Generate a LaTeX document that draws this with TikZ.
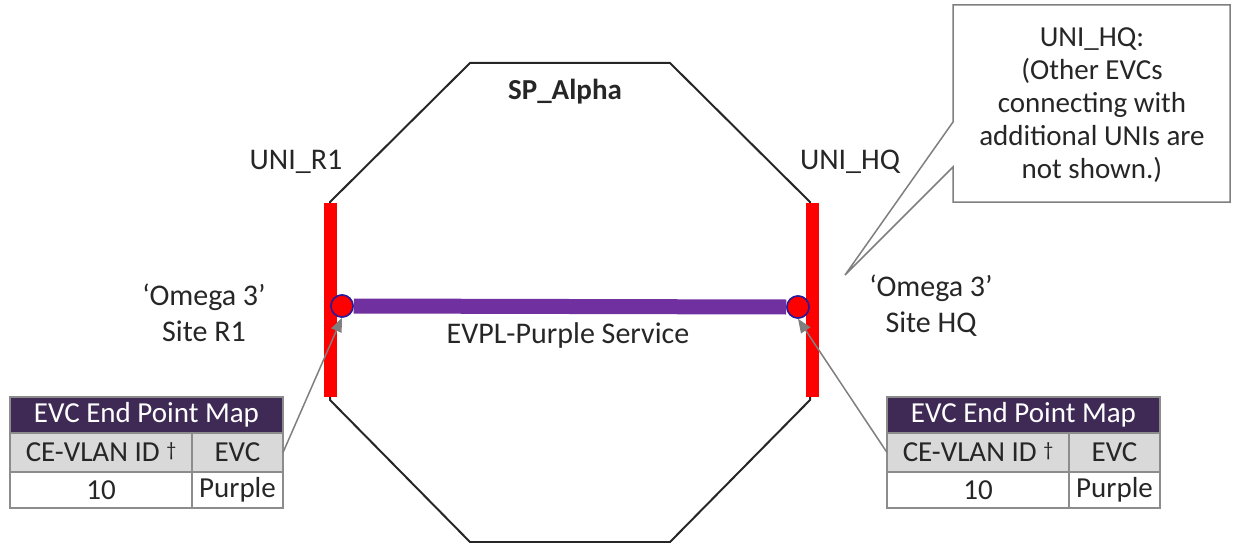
\documentclass[tikz,border=0pt]{standalone}
\usepackage{fontspec}
\setmainfont{Carlito}
\usetikzlibrary{arrows.meta}
\definecolor{evcpurple}{HTML}{7030A0}
\definecolor{hdr}{HTML}{3F2A56}
\definecolor{rowgray}{HTML}{D9D9D9}
\definecolor{txt}{HTML}{262626}
\definecolor{ring}{HTML}{2A1A9A}
\definecolor{linegray}{HTML}{7F7F7F}
\definecolor{tabgray}{HTML}{8C8C8C}
\newcommand\lblfont{\fontsize{30}{34}\selectfont}
\newcommand\tabfont{\fontsize{29}{33}\selectfont}
\newcommand\smalldag{{\fontsize{20}{20}\selectfont\raisebox{5pt}{†}}}
\newcommand\evcmap[3]{%
  \node[cell, fill=hdr, text=white, minimum width=273pt, minimum height=36pt] (#1h) at (#2,#3) {EVC End Point Map};
  \node[cell, fill=rowgray, minimum width=182pt, minimum height=39pt] (#1a) at (#1h.south west) {CE-VLAN ID \smalldag};
  \node[cell, fill=rowgray, minimum width=91pt, minimum height=39pt] (#1b) at (#1a.north east) {EVC};
  \node[cell, minimum width=182pt, minimum height=36pt] (#1c) at (#1a.south west) {10};
  \node[cell, minimum width=91pt, minimum height=36pt] (#1d) at (#1c.north east) {Purple};
}
\begin{document}
\begin{tikzpicture}[x=1pt,y=-1pt,
  cell/.style={draw=tabgray, line width=1.3pt, inner sep=0pt, outer sep=0pt, anchor=north west, font=\tabfont, text=txt},
  lbl/.style={font=\lblfont, text=txt, inner sep=0pt, align=center},
  octa/.style={draw=txt, line width=2pt, line join=miter},
  unibar/.style={draw=red, line width=13pt},
  evcline/.style={draw=evcpurple, line width=15pt},
  endpt/.style={circle, fill=red, draw=ring, line width=1.5pt, minimum size=22pt, inner sep=0pt},
  ptr/.style={draw=linegray, line width=1.5pt, -{Triangle[length=14pt,width=11pt]}},
  callout/.style={draw=linegray, line width=1.5pt, fill=white, line join=miter}]
\useasboundingbox (0,0) rectangle (1235,543);
% octagon
\draw[octa] (470,63) -- (670,63) -- (810,202) -- (810,400) -- (670,542) -- (470,542) -- (330,400) -- (330,202) -- cycle;
\node[font=\tabfont\bfseries, text=txt, inner sep=0pt] (sp) at (565,92) {SP\_Alpha};
% UNI bars
\coordinate (l1) at (330,203); \coordinate (l2) at (330,397);
\coordinate (r1) at (812,203); \coordinate (r2) at (812,397);
\draw[unibar] (l1) -- (l2);
\draw[unibar] (r1) -- (r2);
% endpoints and EVC
\node[endpt] (lc) at (342,306) {};
\node[endpt] (rc) at (798,307) {};
\draw[evcline] (lc.east) -- (rc.west);
\node[endpt] at (lc) {};
\node[endpt] at (rc) {};
% labels
\node[lbl] (unir1) at (296,162) {UNI\_R1};
\node[lbl] (unihq) at (850,162) {UNI\_HQ};
\node[lbl] (sr1) at (204,313) {‘Omega 3’\\[2pt]Site R1};
\node[lbl] (shq) at (931,306) {‘Omega 3’\\[2pt]Site HQ};
\node[lbl] (svc) at (568,335) {EVPL-Purple Service};
% tables
\evcmap{L}{10}{397}
\evcmap{R}{887}{397}
\draw[ptr] (Lb.east) -- (lc.south);
\draw[ptr] (Ra.west) -- (rc.south);
% callout
\coordinate (tip) at (845,275);
\draw[callout] (953,5) -- (1230,5) -- (1230,202) -- (953,202) -- (953,167) -- (tip) -- (953,122) -- cycle;
\node[font=\tabfont, text=txt, align=center, inner sep=0pt] (note) at (1092,105)
  {UNI\_HQ:\\(Other EVCs\\connecting with\\additional UNIs are\\not shown.)};
\end{tikzpicture}
\end{document}
